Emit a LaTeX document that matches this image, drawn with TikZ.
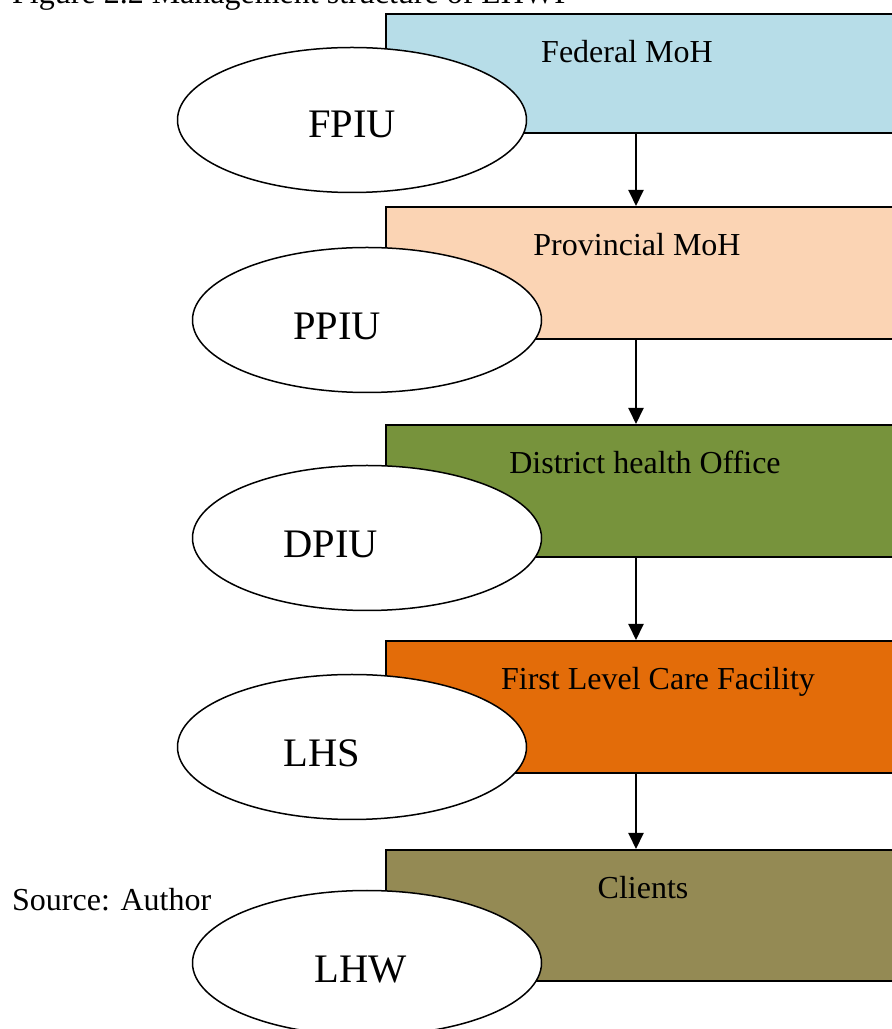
\documentclass[tikz,border=0pt]{standalone}
\usepackage{fontspec}
\setmainfont{Liberation Serif}
\usetikzlibrary{arrows.meta,shapes.geometric}
\definecolor{fedblue}{HTML}{B7DDE8}
\definecolor{provpeach}{HTML}{FBD4B4}
\definecolor{distgreen}{HTML}{77933C}
\definecolor{firstorange}{HTML}{E36C09}
\definecolor{clientolive}{HTML}{948A54}
\tikzset{
  levelbox/.style={draw=black, line width=2pt, rectangle, anchor=north west,
    minimum width=540pt, minimum height=#1, inner sep=0pt},
  unit/.style={draw=black, line width=1.5pt, fill=white, ellipse,
    minimum width=349pt, minimum height=145pt, inner sep=0pt},
  boxtext/.style={font=\fontsize{32}{38}\selectfont, anchor=base, inner sep=0pt},
  unittext/.style={font=\fontsize{40.5}{48}\selectfont, anchor=base, inner sep=0pt},
  plain/.style={font=\fontsize{32}{38}\selectfont, anchor=base west, inner sep=0pt},
  flow/.style={line width=2pt, -{Triangle[length=16pt,width=15pt]}}
}
\begin{document}
\begin{tikzpicture}[x=1pt,y=1pt]
\clip (0,0) rectangle (892,1029);
\fill[white] (0,0) rectangle (892,1029);

% caption above and source note
\node[plain] (cap) at (12,1025) {Figure 2.2 Management structure of LHWP};
\node[plain] (src) at (12,1029-911) {Source: Author};

% administrative levels
\node[levelbox=119pt, fill=fedblue]     (b1) at (385,1029-13)  {};
\node[levelbox=132pt, fill=provpeach]   (b2) at (385,1029-206) {};
\node[levelbox=132pt, fill=distgreen]   (b3) at (385,1029-424) {};
\node[levelbox=132pt, fill=firstorange] (b4) at (385,1029-640) {};
\node[levelbox=131pt, fill=clientolive] (b5) at (385,1029-849) {};

\node[boxtext] (t1) at (627,1029-63)  {Federal MoH};
\node[boxtext] (t2) at (637,1029-256) {Provincial MoH};
\node[boxtext] (t3) at (645,1029-474) {District health Office};
\node[boxtext] (t4) at (658,1029-690) {First Level Care Facility};
\node[boxtext] (t5) at (643,1029-899) {Clients};

% reporting flow
\coordinate (ax) at (636,0);
\draw[flow] (b1.south -| ax) -- (b2.north -| ax);
\draw[flow] (b2.south -| ax) -- (b3.north -| ax);
\draw[flow] (b3.south -| ax) -- (b4.north -| ax);
\draw[flow] (b4.south -| ax) -- (b5.north -| ax);

% implementation units
\node[unit] (e1) at (352,1029-120) {};
\node[unit] (e2) at (367,1029-320) {};
\node[unit] (e3) at (367,1029-538) {};
\node[unit] (e4) at (352,1029-747) {};
\node[unit] (e5) at (367,1029-963) {};

\node[unittext] (u1) at (352,1029-138) {FPIU};
\node[unittext] (u2) at (337,1029-340) {PPIU};
\node[unittext] (u3) at (331,1029-558) {DPIU};
\node[unittext] (u4) at (322,1029-767) {LHS};
\node[unittext] (u5) at (361,1029-983) {LHW};
\end{tikzpicture}
\end{document}
